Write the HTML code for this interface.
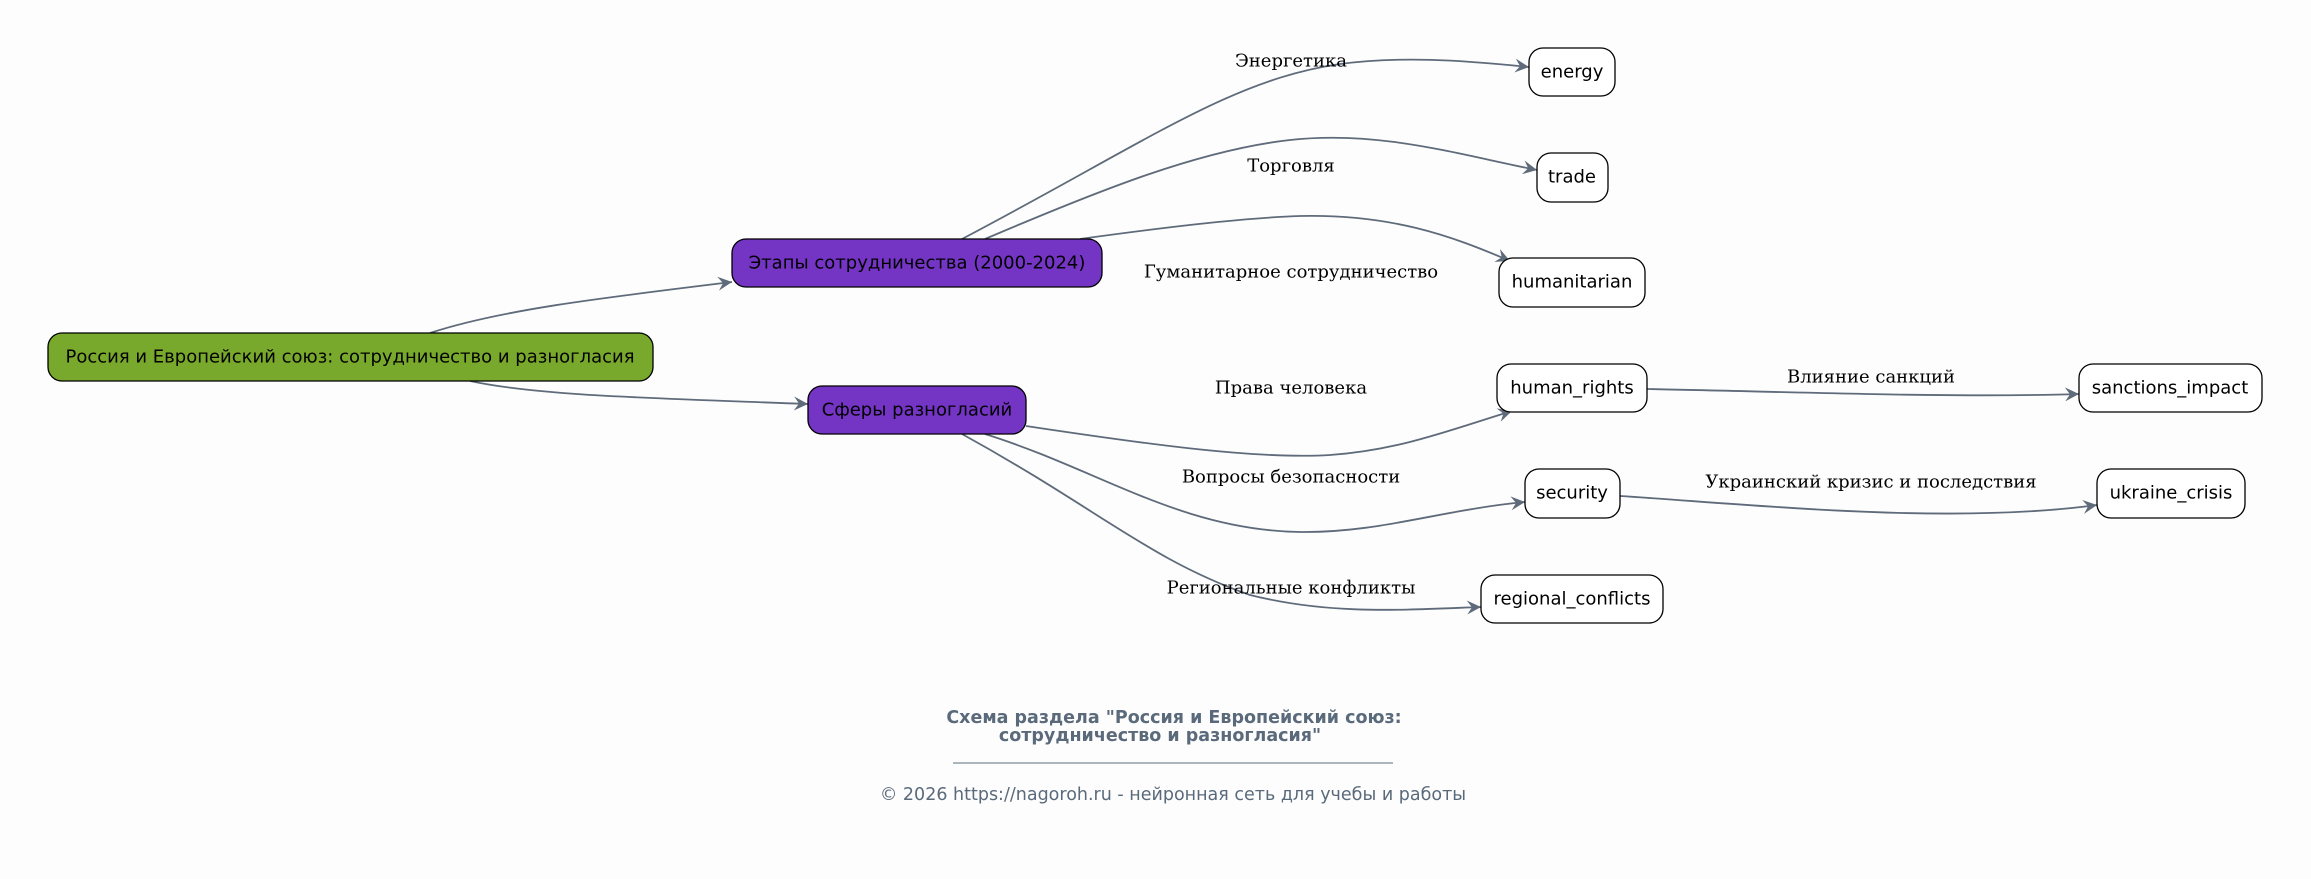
<!DOCTYPE html>
<html><head><meta charset="utf-8"><style>
body{margin:0;background:#fdfdfd;}
svg{display:block}
.n{font-family:"DejaVu Sans","Liberation Sans",sans-serif;font-size:18px;fill:#000;text-anchor:middle;dominant-baseline:central}
.l{font-family:"DejaVu Serif","Liberation Serif",serif;font-size:18px;fill:#000;text-anchor:middle;dominant-baseline:central}
.e{fill:none;stroke:#5f6b7a;stroke-width:1.8}
</style></head><body>
<svg width="2311" height="879" viewBox="0 0 2311 879">
<defs><marker id="a" viewBox="0 0 16 16" refX="15" refY="8" markerWidth="16" markerHeight="16" markerUnits="userSpaceOnUse" orient="auto"><path d="M1,1 L15,8 L1,15 L6,8 Z" fill="#5f6b7a"/></marker></defs>
<g class="e">
<path marker-end="url(#a)" d="M430,333 C500,310 600,298 732,282"/>
<path marker-end="url(#a)" d="M470,381 C540,396 650,398 808,404"/>
<path marker-end="url(#a)" d="M962,239 C1150,140 1230,80 1340,64 C1400,56 1460,60 1529,67"/>
<path marker-end="url(#a)" d="M985,239 C1100,190 1200,150 1290,140 C1380,130 1460,155 1537,170"/>
<path marker-end="url(#a)" d="M1080,239 C1160,228 1240,218 1300,216 C1390,214 1450,235 1510,261"/>
<path marker-end="url(#a)" d="M1026,426 C1120,440 1250,460 1330,455 C1400,450 1450,430 1512,411"/>
<path marker-end="url(#a)" d="M985,434 C1100,470 1180,530 1300,532 C1380,533 1440,510 1525,502"/>
<path marker-end="url(#a)" d="M962,434 C1100,510 1150,560 1250,595 C1330,615 1400,610 1481,607"/>
<path marker-end="url(#a)" d="M1647,389 C1800,392 1950,398 2079,394"/>
<path marker-end="url(#a)" d="M1620,496 C1760,505 1950,525 2097,505"/>
</g>
<rect x="48" y="333" width="605" height="48" rx="14" fill="#79a92c" stroke="#000" stroke-width="1.3"/>
<text class="n" x="350" y="357">Россия и Европейский союз: сотрудничество и разногласия</text>
<rect x="732" y="239" width="370" height="48" rx="14" fill="#7434c4" stroke="#000" stroke-width="1.3"/>
<text class="n" x="917" y="263">Этапы сотрудничества (2000-2024)</text>
<rect x="808" y="386" width="218" height="48" rx="14" fill="#7434c4" stroke="#000" stroke-width="1.3"/>
<text class="n" x="917" y="410">Сферы разногласий</text>
<g fill="#fff" stroke="#000" stroke-width="1.3">
<rect x="1529" y="48" width="86" height="48" rx="14"/>
<rect x="1537" y="153" width="71" height="49" rx="14"/>
<rect x="1499" y="258" width="146" height="49" rx="14"/>
<rect x="1497" y="364" width="150" height="48" rx="14"/>
<rect x="2079" y="364" width="183" height="48" rx="14"/>
<rect x="1525" y="469" width="95" height="49" rx="14"/>
<rect x="2097" y="469" width="148" height="49" rx="14"/>
<rect x="1481" y="575" width="182" height="48" rx="14"/>
</g>
<text class="n" x="1572" y="72">energy</text>
<text class="n" x="1572" y="177">trade</text>
<text class="n" x="1572" y="282">humanitarian</text>
<text class="n" x="1572" y="388">human_rights</text>
<text class="n" x="2170" y="388">sanctions_impact</text>
<text class="n" x="1572" y="493">security</text>
<text class="n" x="2171" y="493">ukraine_crisis</text>
<text class="n" x="1572" y="599">regional_conflicts</text>
<text class="l" x="1291" y="61">Энергетика</text>
<text class="l" x="1291" y="166">Торговля</text>
<text class="l" x="1291" y="272">Гуманитарное сотрудничество</text>
<text class="l" x="1291" y="388">Права человека</text>
<text class="l" x="1291" y="477">Вопросы безопасности</text>
<text class="l" x="1291" y="588">Региональные конфликты</text>
<text class="l" x="1871" y="377">Влияние санкций</text>
<text class="l" x="1871" y="482">Украинский кризис и последствия</text>
<g font-family="DejaVu Sans,Liberation Sans,sans-serif" fill="#5a6a7b" text-anchor="middle">
<text x="1174" y="723" font-size="17.5" font-weight="bold">Схема раздела "Россия и Европейский союз:</text>
<text x="1160" y="741" font-size="17.5" font-weight="bold">сотрудничество и разногласия"</text>
<line x1="953" y1="763" x2="1393" y2="763" stroke="#5a6a7b" stroke-width="1"/>
<text x="1173" y="800" font-size="17.5">© 2026 https://nagoroh.ru - нейронная сеть для учебы и работы</text>
</g>
</svg>
</body></html>
